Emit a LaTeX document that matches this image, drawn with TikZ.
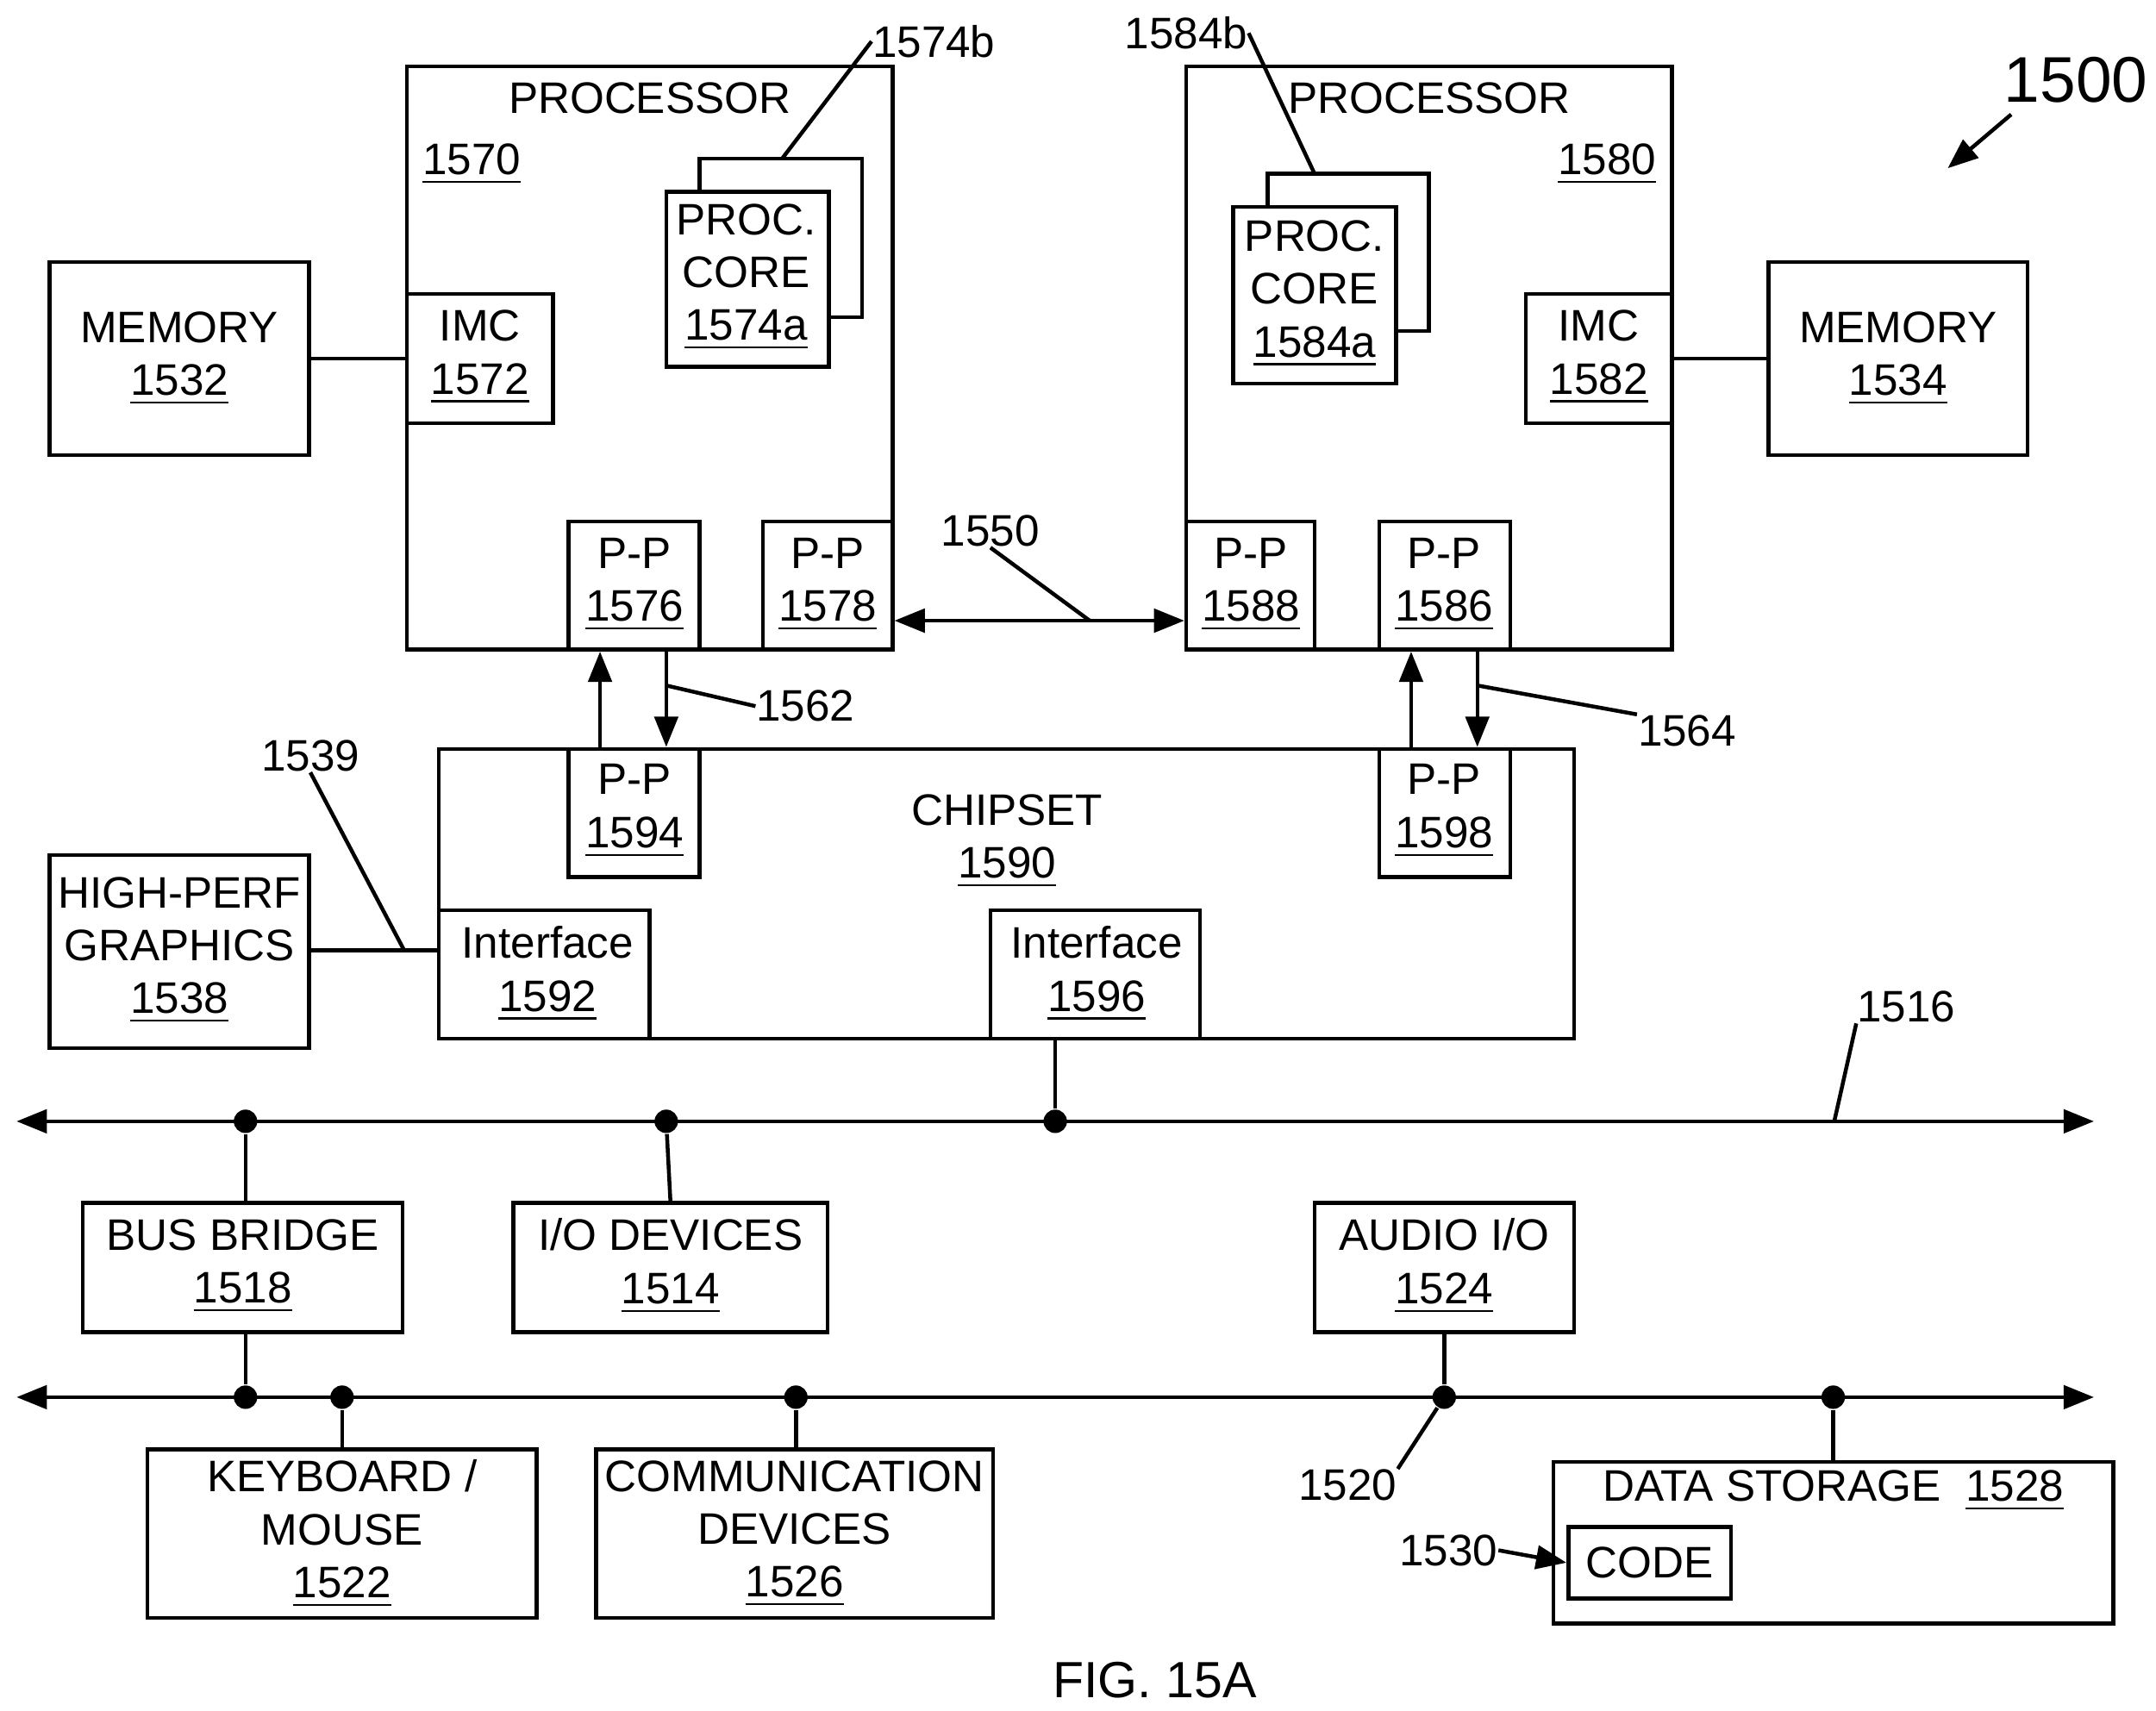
\documentclass[tikz,border=0pt]{standalone}
\usepackage{fontspec}
\setmainfont{Liberation Sans}
\usetikzlibrary{arrows.meta}
\newcommand\mybox[5]{\node[box,minimum width={(#4-#2)*0.01cm},minimum height={(#5-#3)*0.01cm}] (#1) at ({(#2+#4)/2},{(#3+#5)/2}) {};}
\newcommand\ul[1]{\underline{#1}}
\begin{document}
\begin{tikzpicture}
[x=0.01cm,y=-0.01cm,
  box/.style={draw,thick,inner sep=0pt,fill=white},
  txt/.style={align=center,font=\fontsize{9.1}{10.9}\selectfont,inner sep=0pt},
  dot/.style={circle,fill,inner sep=0pt,minimum size=0.17cm},
  thinline/.style={-,thick},
  arrowline/.style={thick,-{Triangle[length=0.22cm,width=0.17cm]}},
  busline/.style={thick,{Triangle[length=0.22cm,width=0.17cm]}-{Triangle[length=0.22cm,width=0.17cm]}}]
\useasboundingbox (0,0) rectangle (1563,1240);
% memories and processors
\mybox{mem1532}{36}{190}{224}{330}
\node[txt] at (130,260) {MEMORY\\\ul{1532}};
\mybox{proc1570}{295}{48}{647}{471}
\node[txt] at (471,71) {PROCESSOR};
\node[txt] at (342,119) {\ul{1570}};
\mybox{coreb1574}{507}{115}{625}{230}
\mybox{core1574}{483}{139}{601}{266}
\node[txt] at (541,201) {PROC.\\CORE\\\ul{1574a}};
\mybox{imc1572}{295}{213}{401}{307}
\node[txt] at (348,259) {IMC\\\ul{1572}};
\mybox{pp1576}{412}{378}{507}{471}
\node[txt] at (460,424) {P-P\\\ul{1576}};
\mybox{pp1578}{553}{378}{647}{471}
\node[txt] at (600,424) {P-P\\\ul{1578}};
\mybox{proc1580}{860}{48}{1212}{471}
\node[txt] at (1036,71) {PROCESSOR};
\node[txt] at (1165,119) {\ul{1580}};
\mybox{coreb1584}{919}{126}{1036}{240}
\mybox{core1584}{894}{150}{1012}{278}
\node[txt] at (953,213) {PROC.\\CORE\\\ul{1584a}};
\mybox{imc1582}{1106}{213}{1212}{307}
\node[txt] at (1159,259) {IMC\\\ul{1582}};
\mybox{mem1534}{1282}{190}{1470}{330}
\node[txt] at (1376,260) {MEMORY\\\ul{1534}};
\mybox{pp1588}{860}{378}{953}{471}
\node[txt] at (907,424) {P-P\\\ul{1588}};
\mybox{pp1586}{1000}{378}{1095}{471}
\node[txt] at (1047,424) {P-P\\\ul{1586}};
% chipset
\mybox{chip1590}{318}{543}{1141}{753}
\node[txt] at (730,610) {CHIPSET\\\ul{1590}};
\mybox{pp1594}{412}{543}{507}{636}
\node[txt] at (460,588) {P-P\\\ul{1594}};
\mybox{pp1598}{1000}{543}{1095}{636}
\node[txt] at (1047,588) {P-P\\\ul{1598}};
\mybox{if1592}{318}{660}{471}{753}
\node[txt] at (397,706) {Interface\\\ul{1592}};
\mybox{if1596}{718}{660}{870}{753}
\node[txt] at (795,706) {Interface\\\ul{1596}};
\mybox{gfx1538}{36}{620}{224}{760}
\node[txt] at (130,689) {HIGH-PERF\\GRAPHICS\\\ul{1538}};
% devices
\mybox{bb1518}{60}{872}{292}{966}
\node[txt] at (176,918) {BUS BRIDGE\\\ul{1518}};
\mybox{io1514}{372}{872}{600}{966}
\node[txt] at (486,918) {I/O DEVICES\\\ul{1514}};
\mybox{aud1524}{953}{872}{1141}{966}
\node[txt] at (1047,918) {AUDIO I/O\\\ul{1524}};
\mybox{kb1522}{107}{1051}{389}{1173}
\node[txt] at (248,1112) {KEYBOARD /\\MOUSE\\\ul{1522}};
\mybox{com1526}{432}{1051}{720}{1173}
\node[txt] at (576,1112) {COMMUNICATION\\DEVICES\\\ul{1526}};
\mybox{ds1528}{1126}{1060}{1532}{1177}
\node[txt] at (1329,1081) {DATA STORAGE\ \ \ul{1528}};
\mybox{code1530}{1137}{1107}{1255}{1159}
\node[txt] at (1196,1133) {CODE};
% buses
\coordinate (b1l) at (12,813);
\coordinate (b1r) at (1518,813);
\coordinate (b2l) at (12,1013);
\coordinate (b2r) at (1518,1013);
\draw[busline] (b1l) -- (b1r);
\draw[busline] (b2l) -- (b2r);
\foreach \n/\x in {d1/178,d2/483,d3/765} \node[dot] (\n) at (\x,813) {};
\foreach \n/\x in {e1/178,e2/248,e3/577,e4/1047,e5/1329} \node[dot] (\n) at (\x,1013) {};
% connectors
\draw[thinline] (mem1532.east) -- (mem1532.east -| imc1572.west);
\draw[thinline] (mem1534.west) -- (mem1534.west -| imc1582.east);
\draw[busline] (pp1578.east |- 0,450) -- (pp1588.west |- 0,450);
\draw[arrowline] (pp1594.north -| 435,0) -- (pp1576.south -| 435,0);
\draw[arrowline] (pp1576.south -| 483,0) -- (pp1594.north -| 483,0);
\draw[arrowline] (pp1598.north -| 1023,0) -- (pp1586.south -| 1023,0);
\draw[arrowline] (pp1586.south -| 1071,0) -- (pp1598.north -| 1071,0);
\draw[thinline] (gfx1538.east |- 0,689) -- (if1592.west |- 0,689);
\draw[thinline] (if1596.south -| d3) -- (d3);
\draw[thinline] (d1) -- (bb1518.north -| d1);
\draw[thinline] (d2) -- (io1514.north);
\draw[thinline] (bb1518.south -| e1) -- (e1);
\draw[thinline] (e2) -- (kb1522.north);
\draw[thinline] (e3) -- (com1526.north -| e3);
\draw[thinline] (aud1524.south) -- (e4);
\draw[thinline] (e5) -- (ds1528.north -| e5);
% reference labels
\node[txt] (l1574b) at (677,30) {1574b};
\draw[thinline] (567,115) -- (l1574b.west);
\node[txt] (l1584b) at (860,24) {1584b};
\draw[thinline] (953,126) -- (l1584b.east);
\node[txt] (l1550) at (718,385) {1550};
\draw[thinline] (l1550.south) -- (790,450);
\node[txt] (l1562) at (584,512) {1562};
\draw[thinline] (483,497) -- (l1562.west);
\node[txt] (l1564) at (1223,530) {1564};
\draw[thinline] (1071,497) -- (l1564.north west);
\node[txt] (l1539) at (225,548) {1539};
\draw[thinline] (l1539.south) -- (293,689);
\node[txt] (l1516) at (1382,730) {1516};
\draw[thinline] (1330,812) -- (l1516.south west);
\node[txt] (l1520) at (977,1077) {1520};
\draw[thinline] (l1520.north east) -- (e4);
\node[txt] (l1530) at (1050,1124) {1530};
\draw[arrowline] (l1530.east) -- (code1530.west);
\node[txt,font=\fontsize{13.3}{16}\selectfont] (l1500) at (1505,58) {1500};
\draw[arrowline] (1458,83) -- (1412,122);
\node[txt,font=\fontsize{10.5}{13}\selectfont] (fig) at (837,1218) {FIG. 15A};
\end{tikzpicture}
\end{document}
